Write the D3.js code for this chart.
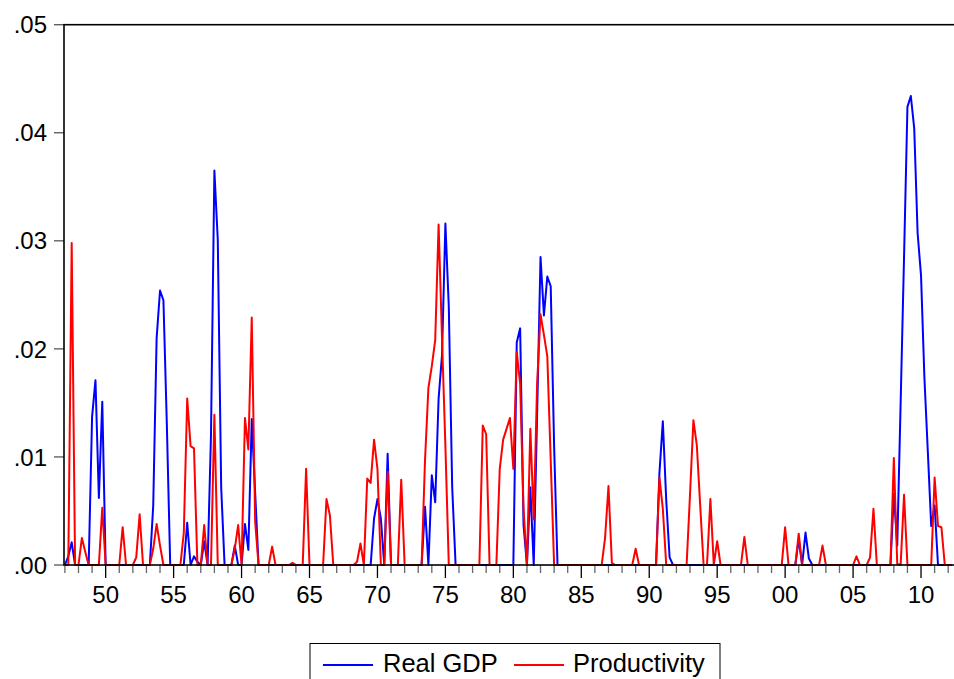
<!DOCTYPE html>
<html>
<head>
<meta charset="utf-8">
<script src="https://cdn.jsdelivr.net/npm/d3@7"></script>
<style>
  body { margin: 0; background: #fff; }
  svg { display: block; font-family: "Liberation Sans", Arial, sans-serif; }
</style>
</head>
<body>
<svg id="chart" width="954" height="679"></svg>
<script>
// quarterly series, first observation 1947Q1
const startYear = 1947;

// Real GDP (blue), two years per row
const realGdp = [
  0, .0008, .0021, 0, 0, 0, 0, 0,                       // 1947-48
  .0137, .0171, .0062, .0151, 0, 0, 0, 0,               // 1949-50
  0, 0, 0, 0, 0, 0, 0, 0,                               // 1951-52
  0, 0, .0055, .021, .0254, .0245, .0131, 0,            // 1953-54
  0, 0, 0, 0, .0039, 0, .0008, .0003,                   // 1955-56
  0, .0022, 0, .012, .0365, .0301, .0072, 0,            // 1957-58
  0, 0, .0018, 0, 0, .0038, .0014, .0135,               // 1959-60
  .0067, 0, 0, 0, 0, 0, 0, 0,                           // 1961-62
  0, 0, 0, 0, 0, 0, 0, 0,                               // 1963-64
  0, 0, 0, 0, 0, 0, 0, 0,                               // 1965-66
  0, 0, 0, 0, 0, 0, 0, 0,                               // 1967-68
  0, 0, 0, .0043, .0061, .0043, 0, .0103,               // 1969-70
  0, 0, 0, 0, 0, 0, 0, 0,                               // 1971-72
  0, 0, .0054, 0, .0083, .0058, .0154, .0194,           // 1973-74
  .0316, .0239, .0072, 0, 0, 0, 0, 0,                   // 1975-76
  0, 0, 0, 0, 0, 0, 0, 0,                               // 1977-78
  0, 0, 0, 0, 0, .0206, .0219, .0037,                   // 1979-80
  0, .0072, 0, .014, .0285, .0231, .0267, .0258,        // 1981-82
  .011, 0, 0, 0, 0, 0, 0, 0,                            // 1983-84
  0, 0, 0, 0, 0, 0, 0, 0,                               // 1985-86
  0, 0, 0, 0, 0, 0, 0, 0,                               // 1987-88
  0, 0, 0, 0, 0, 0, 0, .0085,                           // 1989-90
  .0133, .006, .0007, 0, 0, 0, 0, 0,                    // 1991-92
  0, 0, 0, 0, 0, 0, 0, 0,                               // 1993-94
  0, 0, 0, 0, 0, 0, 0, 0,                               // 1995-96
  0, 0, 0, 0, 0, 0, 0, 0,                               // 1997-98
  0, 0, 0, 0, 0, 0, 0, 0,                               // 1999-00
  .0024, 0, .003, .0006, 0, 0, 0, 0,                    // 2001-02
  0, 0, 0, 0, 0, 0, 0, 0,                               // 2003-04
  0, 0, 0, 0, 0, 0, 0, 0,                               // 2005-06
  0, 0, 0, 0, .0066, .0018, .015, .0285,                // 2007-08
  .0424, .0434, .0404, .0307, .0268, .0173, .0105, .0036, // 2009-10
  .0055, 0, 0, 0, 0, 0                                  // 2011-12Q2
];

// Productivity (red)
const productivity = [
  0, 0, .0298, 0, 0, .0025, .0012, 0,
  0, 0, 0, .0053, 0, 0, 0, 0,
  0, .0035, 0, 0, 0, .0007, .0047, 0,
  0, 0, .0015, .0038, .0018, 0, 0, 0,
  0, 0, 0, .003, .0154, .011, .0108, 0,
  0, .0037, 0, 0, .0139, 0, 0, 0,
  0, 0, .0015, .0037, 0, .0136, .0107, .0229,
  .004, 0, 0, 0, 0, .0017, 0, 0,
  0, 0, 0, .0002, 0, 0, 0, .0089,
  0, 0, 0, 0, 0, .0061, .0046, 0,
  0, 0, 0, 0, 0, 0, .0003, .002,
  0, .008, .0076, .0116, .0089, 0, 0, .0086,
  0, 0, 0, .0079, 0, 0, 0, 0,
  0, 0, .0097, .0164, .0184, .0208, .0315, .021,
  .011, 0, 0, 0, 0, 0, 0, 0,
  0, 0, 0, .0129, .0121, 0, 0, 0,
  .0089, .0116, .0126, .0136, .0089, .0197, .0168, .0052,
  0, .0126, .0042, .0168, .0232, .0213, .0193, .0097,
  0, 0, 0, 0, 0, 0, 0, 0,
  0, 0, 0, 0, 0, 0, 0, .0025,
  .0073, .0002, 0, 0, 0, 0, 0, 0,
  .0015, 0, 0, 0, 0, 0, 0, .0081,
  .0052, 0, 0, 0, 0, 0, 0, 0,
  .0065, .0134, .0111, .0055, 0, 0, .0061, 0,
  .0022, 0, 0, 0, 0, 0, 0, 0,
  .0026, 0, 0, 0, 0, 0, 0, 0,
  0, 0, 0, 0, .0035, 0, 0, 0,
  .0029, 0, 0, 0, 0, 0, 0, .0018,
  0, 0, 0, 0, 0, 0, 0, 0,
  0, .0008, 0, 0, 0, .0007, .0052, 0,
  0, 0, 0, 0, .0099, .0001, 0, .0065,
  0, 0, 0, 0, 0, 0, 0, 0,
  .0081, .0036, .0035, 0, 0, 0
];

const yTicks = [0, .01, .02, .03, .04, .05];
const labelYears = d3.range(1950, 2011, 5);
const minorYears = d3.range(1947, 2013);

const series = [
  { name: "Real GDP", values: realGdp, color: "#0000ff" },
  { name: "Productivity", values: productivity, color: "#ff0000" }
];

const svg = d3.select("#chart");
const plotLeft = 64, plotTop = 24.7, plotBottom = 565, plotRight = 956;

const x = d3.scaleLinear()
  .domain([startYear, startYear + (realGdp.length - 1) / 4])
  .range([64.9, 951.6]);

const y = d3.scaleLinear()
  .domain([0, .05])
  .range([plotBottom, plotTop]);

// y ticks and labels
const yAxis = svg.append("g");
yTicks.forEach(t => {
  yAxis.append("line")
    .attr("x1", plotLeft - 10).attr("x2", plotLeft)
    .attr("y1", y(t)).attr("y2", y(t))
    .attr("stroke", "#555").attr("stroke-width", 1.3);
  yAxis.append("text")
    .attr("x", 47).attr("y", y(t))
    .attr("dy", "0.36em")
    .attr("text-anchor", "end")
    .attr("font-size", 24)
    .text(d3.format(".2f")(t).replace(/^0/, ""));
});

// x ticks: yearly minor, 5-year major with labels
const xAxis = svg.append("g");
minorYears.forEach(yr => {
  const major = labelYears.includes(yr);
  xAxis.append("line")
    .attr("x1", x(yr)).attr("x2", x(yr))
    .attr("y1", plotBottom).attr("y2", plotBottom + (major ? 13 : 8))
    .attr("stroke", major ? "#000" : "#666")
    .attr("stroke-width", 1.3);
});
labelYears.forEach(yr => {
  xAxis.append("text")
    .attr("x", x(yr)).attr("y", 603)
    .attr("text-anchor", "middle")
    .attr("font-size", 24)
    .text(String(yr % 100).padStart(2, "0"));
});

// series lines
const line = d3.line()
  .x((d, i) => x(startYear + i / 4))
  .y(d => y(d));

svg.append("g").selectAll("path")
  .data(series)
  .join("path")
  .attr("d", d => line(d.values))
  .attr("fill", "none")
  .attr("stroke", d => d.color)
  .attr("stroke-width", 2)
  .attr("stroke-linejoin", "round");

// frame
svg.append("rect")
  .attr("x", plotLeft).attr("y", plotTop)
  .attr("width", plotRight - plotLeft).attr("height", plotBottom - plotTop)
  .attr("fill", "none")
  .attr("stroke", "#000")
  .attr("stroke-width", 1.6);

// legend
const legend = svg.append("g");
legend.append("rect")
  .attr("x", 310).attr("y", 643.5)
  .attr("width", 410).attr("height", 50)
  .attr("fill", "#fff").attr("stroke", "#000").attr("stroke-width", 1);

const legendItems = [
  { lx: 323, tx: 383 },
  { lx: 514, tx: 573 }
];
series.forEach((s, k) => {
  const it = legendItems[k];
  legend.append("line")
    .attr("x1", it.lx).attr("x2", it.lx + 50)
    .attr("y1", 665).attr("y2", 665)
    .attr("stroke", s.color).attr("stroke-width", 2);
  legend.append("text")
    .attr("x", it.tx).attr("y", 672)
    .attr("font-size", 25.5)
    .text(s.name);
});
</script>
</body>
</html>
